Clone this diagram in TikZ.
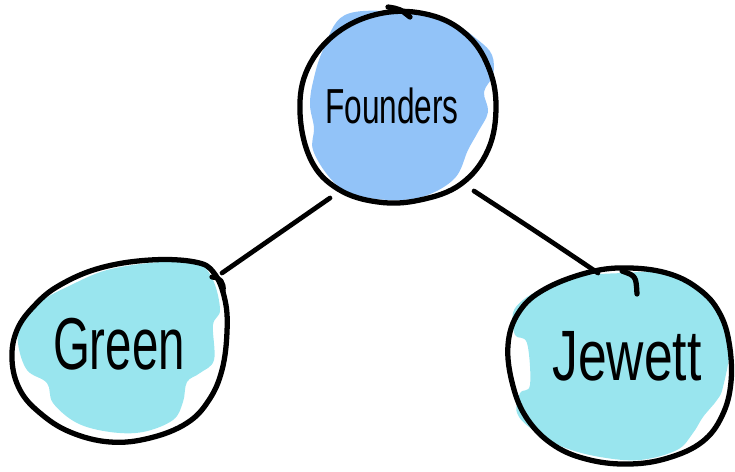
\documentclass[tikz,border=0pt]{standalone}
\usepackage{fontspec}
\setmainfont{Liberation Sans}
\definecolor{founderblue}{HTML}{92C3F8}
\definecolor{memberaqua}{HTML}{99E5EE}
\tikzset{
  outline/.style={draw=black, line width=3pt, line cap=round, line join=round},
  link/.style={draw=black, line width=2.7pt, line cap=round},
  label/.style={font=#1, text=black, inner sep=0pt}
}
\begin{document}
\begin{tikzpicture}[x=0.02cm, y=-0.02cm]
  \useasboundingbox (0,0) rectangle (735,471);

  % connector end points, just outside each outline
  \coordinate (founders-sw) at (330,198);
  \coordinate (founders-se) at (474,191);
  \coordinate (green-ne) at (222,273);
  \coordinate (jewett-n) at (598,273);

  % scribbled fills
  \fill[founderblue] plot[smooth cycle, tension=0.6] coordinates {
    (345,15) (400,12) (450,22) (478,40) (492,55) (493,75) (484,92) (488,112)
    (478,132) (468,150) (455,178) (425,196) (390,200) (352,194) (330,178)
    (313,150) (314,128) (310,105) (313,82) (323,50)};
  \fill[memberaqua] plot[smooth cycle, tension=0.6] coordinates {
    (107,270) (160,262) (197,263) (213,280) (220,310) (213,325) (214,360)
    (200,373) (187,382) (183,402) (173,420) (143,432) (110,432) (77,423)
    (53,403) (47,383) (27,370) (18,343) (21,318) (43,300) (67,287)};
  \fill[memberaqua] plot[smooth cycle, tension=0.6] coordinates {
    (570,277) (623,273) (663,273) (703,290) (723,317) (730,347) (723,387)
    (717,400) (703,417) (693,433) (677,450) (640,460) (600,457) (563,447)
    (533,430) (517,413) (520,393) (530,385) (527,343) (515,335) (513,313)
    (523,300) (540,290)};

  % hand-drawn outlines
  \draw[outline] plot[smooth cycle, tension=0.65] coordinates {
    (300,112) (308,68) (338,32) (383,13) (430,15) (466,34) (488,66) (496,106)
    (488,150) (461,184) (420,200) (378,202) (338,189) (311,160)};
  \draw[outline] (388,7) .. controls (400,9) .. (410,17);

  \draw[outline] plot[smooth cycle, tension=0.65] coordinates {
    (150,260) (195,262) (214,273) (225,300) (227,332) (222,370) (209,400)
    (187,423) (150,438) (110,442) (70,432) (40,413) (20,390) (12,360)
    (17,330) (35,305) (60,285) (100,268)};
  \draw[outline] (212,277) .. controls (220,277) and (224,283) .. (223,291);

  \draw[outline] plot[smooth cycle, tension=0.65] coordinates {
    (590,272) (630,268) (670,274) (700,290) (719,312) (729,342) (731,382)
    (722,416) (702,442) (668,458) (630,464) (590,460) (555,446) (528,420)
    (513,386) (508,345) (519,312) (545,289)};
  \draw[outline] (622,271) .. controls (636,276) .. (637,294);

  % connectors
  \draw[link] (founders-sw) -- (green-ne);
  \draw[link] (founders-se) .. controls (540,234) .. (jewett-n);

  % labels
  \node[label={\fontsize{20pt}{20pt}\selectfont}] (tfounders) at (392,106) {\scalebox{0.9}[1.4]{Founders}};
  \node[label={\fontsize{27pt}{27pt}\selectfont}] (tgreen) at (119,344) {\scalebox{1.0}[1.55]{Green}};
  \node[label={\fontsize{28pt}{28pt}\selectfont}] (tjewett) at (627,356) {\scalebox{1.05}[1.45]{Jewett}};
\end{tikzpicture}
\end{document}
